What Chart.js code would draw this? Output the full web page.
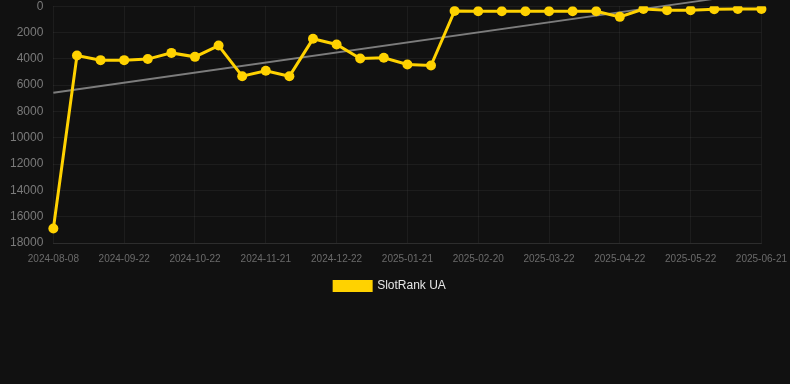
<!DOCTYPE html>
<html>
<head>
<meta charset="utf-8">
<script src="https://cdn.jsdelivr.net/npm/chart.js@4.4.1/dist/chart.umd.min.js"></script>
<style>
  html, body { margin: 0; padding: 0; background: #111111; overflow: hidden; }
  #wrap { width: 797px; height: 313px; position: relative; margin-top: -11px; }
</style>
</head>
<body>
<div id="wrap"><canvas id="myChart"></canvas></div>
<script>
// dates on the x axis (one per point)
const dates = [
  "2024-08-08", "2024-08-23", "2024-09-07", "2024-09-22", "2024-10-02", "2024-10-12",
  "2024-10-22", "2024-11-01", "2024-11-11", "2024-11-21", "2024-12-01", "2024-12-11",
  "2024-12-22", "2025-01-01", "2025-01-11", "2025-01-21", "2025-01-31", "2025-02-10",
  "2025-02-20", "2025-03-02", "2025-03-12", "2025-03-22", "2025-04-01", "2025-04-11",
  "2025-04-22", "2025-05-02", "2025-05-12", "2025-05-22", "2025-06-01", "2025-06-11",
  "2025-06-21"
];

// rank values
const rankValues = [
  16900, 3750, 4100, 4100, 4020, 3550,
  3850, 2990, 5320, 4910, 5320, 2480,
  2910, 3970, 3920, 4430, 4510, 360,
  380, 380, 380, 380, 380, 380,
  810, 210, 300, 300, 230, 210,
  210
];

// trend line: only the two end values, joined across the gap
const trendValues = [6580];
for (let i = 1; i < dates.length - 1; i++) trendValues.push(null);
trendValues.push(-1070);

const yTicks = { min: 0, max: 18000, step: 2000 };

var ctx = document.getElementById("myChart").getContext("2d");

var myChart = new Chart(ctx, {
  type: "line",
  data: {
    labels: dates,
    datasets: [
      {
        label: "SlotRank UA",
        data: rankValues,
        borderColor: "#FFD200",
        backgroundColor: "#FFD200",
        borderWidth: 3,
        pointRadius: 5,
        pointHoverRadius: 6,
        pointBackgroundColor: "#FFD200",
        pointBorderWidth: 0,
        tension: 0,
        order: 1,
      },
      {
        label: "trend",
        data: trendValues,
        borderColor: "rgba(160,160,160,0.75)",
        borderWidth: 2,
        pointRadius: 0,
        spanGaps: true,
        clip: false,
        order: 2,
      },
    ],
  },
  options: {
    responsive: true,
    maintainAspectRatio: false,
    animation: false,
    layout: { padding: { top: 0, right: 17, left: 0, bottom: 0 } },
    plugins: {
      legend: {
        position: "bottom",
        labels: {
          color: "#e6e6e6",
          font: { family: "Liberation Sans, Arial", size: 12 },
          boxWidth: 37,
          boxHeight: 9,
          padding: 5,
          filter: (item) => item.text !== "trend",
        },
      },
      tooltip: { enabled: false },
    },
    scales: {
      x: {
        offset: false,
        grid: { color: "rgba(255,255,255,0.05)", drawTicks: false },
        border: { color: "rgba(255,255,255,0.08)" },
        ticks: {
          color: "#6b6b6b",
          font: { family: "Liberation Sans, Arial", size: 10 },
          maxRotation: 0,
          autoSkip: true,
          maxTicksLimit: 11,
          padding: 10,
        },
      },
      y: {
        reverse: true,
        min: yTicks.min,
        max: yTicks.max,
        grid: { color: "rgba(255,255,255,0.05)", drawTicks: false },
        border: { display: false },
        ticks: {
          stepSize: yTicks.step,
          color: "#7a7a7a",
          font: { family: "Liberation Sans, Arial", size: 12 },
          padding: 10,
          callback: (v) => String(v),
        },
      },
    },
  },
});
</script>
</body>
</html>
